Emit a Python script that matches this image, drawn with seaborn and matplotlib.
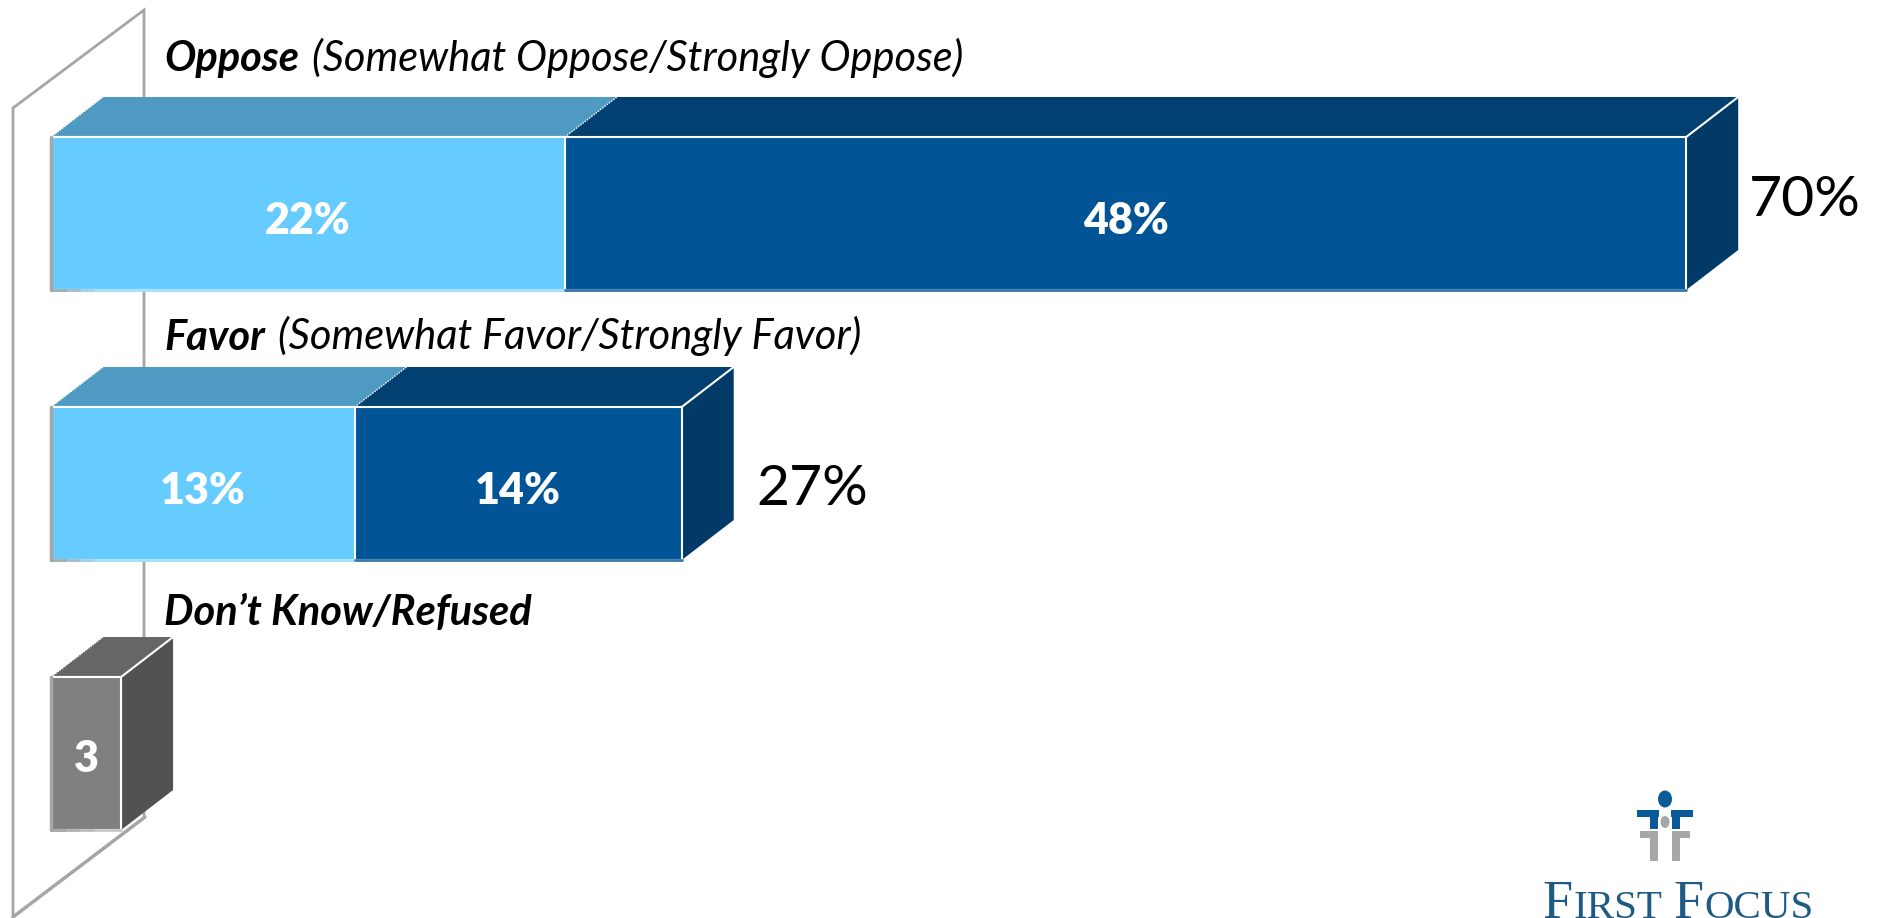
import matplotlib
matplotlib.use("Agg")
import matplotlib.pyplot as plt
from matplotlib.patches import Ellipse, Polygon, Rectangle
import pandas as pd
import seaborn as sns

# Survey responses, percent of respondents
categories = ["Oppose", "Favor", "Don't Know/Refused"]
somewhat = [22, 13, 3]
strongly = [48, 14, 0]
headline = ["Oppose", "Favor", "Don\u2019t Know/Refused"]
detail = ["(Somewhat Oppose/Strongly Oppose)", "(Somewhat Favor/Strongly Favor)", ""]

LIGHT, LIGHT_TOP, LIGHT_BASE = "#66CCFF", "#4F9AC3", "#A3E0FF"
DARK, DARK_TOP, DARK_SIDE, DARK_BASE = "#015596", "#024071", "#013A66", "#3A78A8"
GREY, GREY_TOP, GREY_SIDE = "#808080", "#666666", "#525252"
WALL = "#A6A6A6"
W, H = 1881, 918
PX_PER_PCT = 23.36
PX_PER_ROW = 270
DEPTH_X, DEPTH_Y = 52 / PX_PER_PCT, 40 / PX_PER_ROW
BAR_H = 153 / PX_PER_ROW

sns.set_theme(style="white")
plt.rcParams["font.family"] = ["Lato", "DejaVu Sans"]

df = pd.DataFrame({"category": categories, "somewhat": somewhat, "strongly": strongly})
df["total"] = df["somewhat"] + df["strongly"]

fig = plt.figure(figsize=(W / 100, H / 100), dpi=100, facecolor="white")
renderer = fig.canvas.get_renderer()

# Back layer in pixel units: the chart wall and the logo
bg = fig.add_axes([0, 0, 1, 1], zorder=0)
bg.set_xlim(0, W)
bg.set_ylim(H, 0)
bg.axis("off")
bg.plot([13, 13, 144, 144], [917, 108, 10, 817], color=WALL, lw=2, solid_joinstyle="miter")
bg.plot([13, 145], [917, 817], color=WALL, lw=2.5)

LOGO_BLUE, LOGO_GREY, LOGO_TEXT = "#0B5A98", "#A5A7A9", "#1D5A85"
bg.add_patch(Ellipse((1665, 799), 14, 17, color=LOGO_BLUE, lw=0))
bg.add_patch(Ellipse((1665, 822), 9, 12, color=LOGO_GREY, lw=0))
for mirror in (-1, 1):
    def x_span(a, b):
        return min(1665 + mirror * a, 1665 + mirror * b)
    bg.add_patch(Rectangle((x_span(6, 28), 810), 22, 7, color=LOGO_BLUE, lw=0))
    bg.add_patch(Rectangle((x_span(7, 15), 810), 8, 19, color=LOGO_BLUE, lw=0))
    bg.add_patch(Rectangle((x_span(7, 25), 831), 18, 7, color=LOGO_GREY, lw=0))
    bg.add_patch(Rectangle((x_span(7, 15), 831), 8, 30, color=LOGO_GREY, lw=0))

# Wordmark set in small capitals, one run of text per size
for word_x, runs in [(1542, [("F", 39), ("IRST", 29.5)]), (1673, [("F", 39), ("OCUS", 29.5)])]:
    for piece, size in runs:
        run = bg.text(word_x, 918, piece, fontsize=size, family="Liberation Serif",
                      color=LOGO_TEXT, ha="left", va="baseline", clip_on=False)
        word_x += run.get_window_extent(renderer).width + 1

# Front layer: the bars, with percent on x and categories on y
ax = fig.add_axes([0, 0, 1, 1], zorder=1)
ax.patch.set_alpha(0)
palette_back = {categories[0]: DARK, categories[1]: DARK, categories[2]: GREY}
palette_front = {categories[0]: LIGHT, categories[1]: LIGHT, categories[2]: GREY}


def extrude(x0, x1, row, top_color, side_color=None):
    """Top face of a bar segment, and its end face when side_color is given."""
    y_top = row - BAR_H / 2
    y_bot = row + BAR_H / 2
    ax.add_patch(Polygon([(x0, y_top), (x0 + DEPTH_X, y_top - DEPTH_Y),
                          (x1 + DEPTH_X, y_top - DEPTH_Y), (x1, y_top)],
                         facecolor=top_color, edgecolor="none", zorder=1))
    ax.plot([x0, x0 + DEPTH_X], [y_top, y_top - DEPTH_Y], color="white", lw=1, ls=(0, (1, 1)), zorder=1.5)
    if side_color:
        ax.add_patch(Polygon([(x1, y_top), (x1 + DEPTH_X, y_top - DEPTH_Y),
                              (x1 + DEPTH_X, y_bot - DEPTH_Y), (x1, y_bot)],
                             facecolor=side_color, edgecolor="none", zorder=1))
        ax.plot([x1, x1 + DEPTH_X], [y_top, y_top - DEPTH_Y], color="white", lw=1.5, zorder=1.5)


for row, (s, t) in enumerate(zip(df["somewhat"], df["total"])):
    if t > s:
        extrude(0, s, row, LIGHT_TOP)
        extrude(s, t, row, DARK_TOP, DARK_SIDE)
    else:
        extrude(0, s, row, GREY_TOP, GREY_SIDE)

# Stacked front faces: full totals first, the "somewhat" share over them
edge = dict(edgecolor="white", linewidth=1.5, width=BAR_H, legend=False, zorder=2,
            orient="y", dodge=False, saturation=1)
sns.barplot(data=df, x="total", y="category", hue="category", palette=palette_back, ax=ax, **edge)
sns.barplot(data=df, x="somewhat", y="category", hue="category", palette=palette_front, ax=ax, **edge)

ax.set_xlim(-51 / PX_PER_PCT, (W - 51) / PX_PER_PCT)
ax.set_ylim((H - 213.5) / PX_PER_ROW, -213.5 / PX_PER_ROW)
ax.axis("off")

# Outline: grey down the left side, tinted along the base, with a grey stub fading out
for row, (s, t) in enumerate(zip(df["somewhat"], df["total"])):
    y_top, y_bot = row - BAR_H / 2, row + BAR_H / 2
    if t > s:
        ax.plot([0, s], [y_bot, y_bot], color=LIGHT_BASE, lw=2, zorder=3)
        ax.plot([s, t], [y_bot, y_bot], color=DARK_BASE, lw=2, zorder=3)
    else:
        ax.plot([0, t], [y_bot, y_bot], color="#C8C8C8", lw=2, zorder=3)
    ax.plot([0, 0], [y_top, y_bot], color=WALL, lw=2.5, zorder=3.2)
    for step, alpha in enumerate([0.9, 0.6, 0.3]):
        ax.plot([step * 0.6, (step + 1) * 0.6], [y_bot, y_bot], color=WALL, lw=2, alpha=alpha, zorder=3.1)

# Segment values
inside = dict(color="white", fontweight="heavy", fontsize=31, ha="center", va="center", zorder=4)
for row, (s, k) in enumerate(zip(df["somewhat"], df["strongly"])):
    if k:
        ax.annotate(f"{s}%", (s / 2, row), xytext=(0, -7), textcoords="offset pixels", **inside)
        ax.annotate(f"{k}%", (s + k / 2, row), xytext=(0, -7), textcoords="offset pixels", **inside)
    else:
        ax.annotate(f"{s}", (s / 2, row), xytext=(0, -5), textcoords="offset pixels", **inside)

# Totals beside the bars
total_offsets = [(63, 13), (75, -6)]
for row, off in enumerate(total_offsets):
    ax.annotate(f"{df['total'][row]}%", (df["total"][row], row), xytext=off, textcoords="offset pixels",
                fontsize=41, color="black", ha="left", va="center", zorder=4)

# Row headings above each bar; the rise differs per row
heading_rise = [143, 134, 129]
for row, (head, rest, rise) in enumerate(zip(headline, detail, heading_rise)):
    first = ax.annotate(head, (0, row), xytext=(113, rise), textcoords="offset pixels",
                        fontsize=30, fontweight="bold", fontstyle="italic", color="black",
                        ha="left", va="baseline", zorder=4)
    if rest:
        gap = first.get_window_extent(renderer).width + 13
        ax.annotate(rest, (0, row), xytext=(113 + gap, rise), textcoords="offset pixels",
                    fontsize=30, fontstyle="italic", color="black",
                    ha="left", va="baseline", zorder=4)

fig.savefig("out.png", dpi=100)
